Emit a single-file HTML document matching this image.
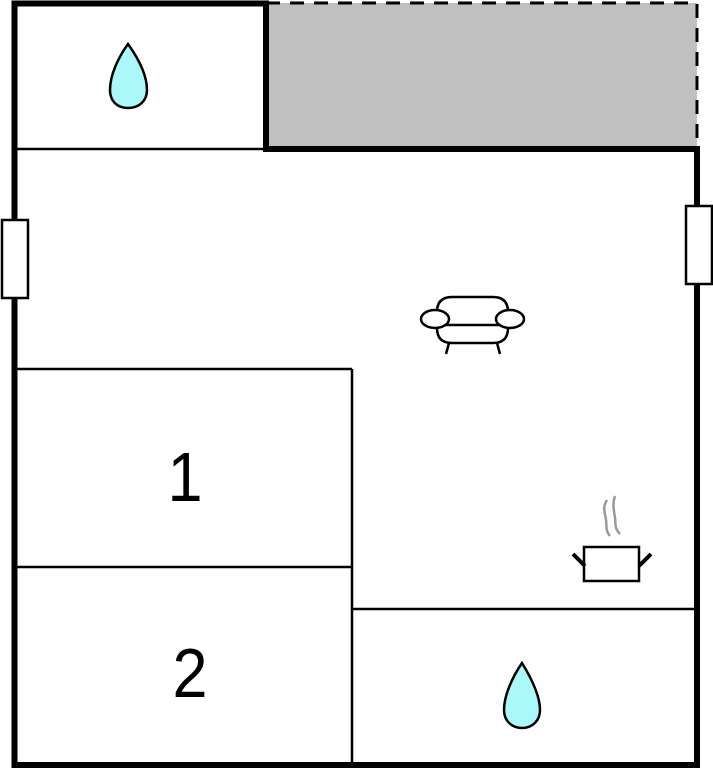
<!DOCTYPE html>
<html><head><style>html,body{margin:0;padding:0;background:#fff;width:713px;height:768px;overflow:hidden}</style></head>
<body>
<svg width="713" height="768" viewBox="0 0 713 768" xmlns="http://www.w3.org/2000/svg">
<rect x="266" y="3" width="431" height="146" fill="#c0c0c0"/>
<path d="M266 3 H697 V149" fill="none" stroke="#000" stroke-width="3" stroke-dasharray="14,10"/>
<g stroke="#000" fill="none">
<path d="M14.5 765 V3.5 H266 V149 H697 V765 Z" stroke-width="6"/>
<line x1="266" y1="149" x2="697" y2="149" stroke-width="5"/>
<line x1="14" y1="149" x2="266" y2="149" stroke-width="2.5"/>
<line x1="14" y1="369" x2="352" y2="369" stroke-width="2.5"/>
<line x1="352" y1="369" x2="352" y2="765" stroke-width="2.5"/>
<line x1="14" y1="567" x2="352" y2="567" stroke-width="2.5"/>
<line x1="352" y1="609" x2="697" y2="609" stroke-width="2.5"/>
</g>
<rect x="2" y="220" width="26" height="78" fill="#fff" stroke="#000" stroke-width="2.5"/>
<rect x="686" y="206" width="26" height="78" fill="#fff" stroke="#000" stroke-width="2.5"/>
<path d="M128 44 C138 58 147 75 147 90 C147 101 139 108 128 108 C117 108 110 101 110 90 C110 75 118 58 128 44 Z" fill="#aaf8fa" stroke="#000" stroke-width="2.5"/>
<path d="M522 663 C530 676 540 695 540 710 C540 721 532 728 522 728 C512 728 504 721 504 710 C504 695 513 676 522 663 Z" fill="#aaf8fa" stroke="#000" stroke-width="2.5"/>
<g fill="none" stroke="#000" stroke-width="2.5">
<path d="M437 312 C437 302 442 297 452 297 H493 C503 297 508 302 508 312"/>
<path d="M437 328 C437 338 442 343 452 343 H493 C503 343 508 338 508 328"/>
<line x1="446" y1="325" x2="500" y2="325"/>
<ellipse cx="435" cy="319" rx="14" ry="9" fill="#fff"/>
<ellipse cx="510" cy="319" rx="14" ry="9" fill="#fff"/>
<line x1="449" y1="343" x2="446" y2="354"/>
<line x1="497" y1="343" x2="500" y2="354"/>
</g>
<path d="M607 500 C602 508 605 512 606 520 C607 526 605 530 610 536 M615 496 C612 504 614 510 615 518 C616 524 614 528 620 534" fill="none" stroke="#999" stroke-width="2.5"/>
<rect x="584" y="547" width="55" height="34" fill="#fff" stroke="#000" stroke-width="2.5"/>
<line x1="573" y1="554" x2="585" y2="566" stroke="#000" stroke-width="4"/>
<line x1="651" y1="554" x2="639" y2="566" stroke="#000" stroke-width="4"/>
<text x="0" y="501" font-family="Liberation Sans, sans-serif" font-size="70" text-anchor="middle" transform="translate(185 0) scale(0.9 1)">1</text>
<text x="0" y="697" font-family="Liberation Sans, sans-serif" font-size="70" text-anchor="middle" transform="translate(190 0) scale(0.9 1)">2</text>
</svg>
</body></html>
